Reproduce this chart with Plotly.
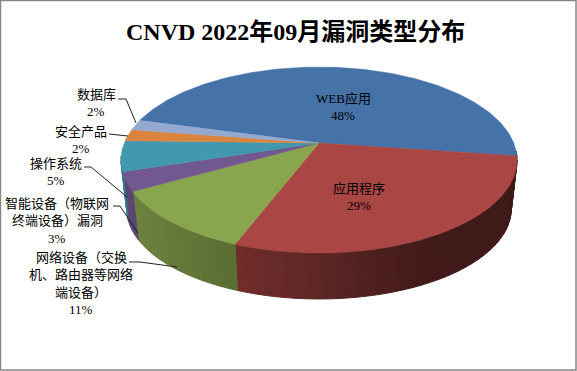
import numpy as np
import plotly.graph_objects as go

categories = ["WEB应用", "应用程序", "网络设备（交换机、路由器等网络终端设备）",
              "智能设备（物联网终端设备）漏洞", "操作系统", "安全产品", "数据库"]
values = [48.0, 28.6, 11.0, 3.3, 5.3, 2.0, 1.8]
top_colors = ["#4572A7", "#AA4643", "#89A54E", "#71588F", "#4198AF", "#DB843D", "#93A9CF"]
start_angle = -74.8

# label text split in lines, with placement
label_lines = [
    ["WEB应用"], ["应用程序"], ["网络设备（交换", "机、路由器等网络", "端设备）"],
    ["智能设备（物联网", "终端设备）漏洞"], ["操作系统"], ["安全产品"], ["数据库"],
]
label_pos = [(343, 98), (359, 188), (81, 257), (57, 203), (56, 163), (81, 131), (96, 94)]
leaders = [
    None, None,
    [(129, 262), (140, 262), (177, 267)],
    [(113, 206), (120, 206), (138, 233)],
    [(84, 167), (91, 167), (127, 197)],
    [(109, 134), (128, 136)],
    [(118, 99), (126, 99), (136, 123)],
]

CX, CY, A, B, P = 319, 143, 194.7, 89.9, 0.183
A2, B2, DY = 189, 87, 49.5


def project(theta_deg, a, b, dy):
    t = np.radians(theta_deg)
    u, v = np.sin(t), np.cos(t)
    w = 1 + P * v
    return CX + a * u / w, CY + dy - b * v / w


def shade(hex_color, f):
    r, g, b = int(hex_color[1:3], 16), int(hex_color[3:5], 16), int(hex_color[5:7], 16)
    return f"rgb({int(r * f)},{int(g * f)},{int(b * f)})"


fig = go.Figure()
total = sum(values)
edges = start_angle + np.concatenate([[0], np.cumsum(values)]) / total * 360.0

# side wall
for i, c in enumerate(top_colors):
    lo, hi = edges[i], edges[i + 1]
    segs = []
    for off in (0, 360):
        l, h = max(lo + off, 95), min(hi + off, 262)
        if h > l:
            segs.append((l, h))
    for l, h in segs:
        n = max(2, int((h - l) / 2.5))
        th = np.linspace(l, h, n + 1)
        for j in range(n):
            tt = np.linspace(th[j], th[j + 1], 3)
            xt, yt = project(tt, A, B, 0)
            xb, yb = project(tt[::-1], A2, B2, DY)
            xm = xt.mean()
            f = float(np.interp(xm, [125, 236, 330, 420, 517], [0.8, 0.66, 0.53, 0.39, 0.37]))
            col = shade(c, f)
            fig.add_trace(go.Scatter(x=np.r_[xt, xb, xt[0]], y=np.r_[yt, yb, yt[0]], mode="lines", fill="toself",
                                     fillcolor=col, line=dict(width=1, color=col), hoverinfo="skip",
                                     showlegend=False))

# top face
for i, c in enumerate(top_colors):
    tt = np.linspace(edges[i], edges[i + 1], max(3, int(values[i] * 3.6)))
    x, y = project(tt, A, B, 0)
    fig.add_trace(go.Scatter(x=np.r_[CX, x, CX], y=np.r_[CY, y, CY], mode="lines", fill="toself",
                             fillcolor=c, line=dict(width=0.5, color=c), name=categories[i],
                             showlegend=False))

# leader lines
for seg in leaders:
    if seg:
        fig.add_trace(go.Scatter(x=[p[0] for p in seg], y=[p[1] for p in seg], mode="lines",
                                 line=dict(color="#222222", width=1), hoverinfo="skip", showlegend=False))

FONT = "Liberation Serif, Noto Sans CJK SC"
ann = []
for lines, (lx, ly), v in zip(label_lines, label_pos, values):
    for k, t in enumerate(lines + [f"{round(v / total * 100)}%"]):
        ann.append(dict(x=lx, y=ly + k * 17.5, text=t, showarrow=False, xref="x", yref="y",
                        font=dict(family=FONT, size=13, color="#000000")))
ann.append(dict(x=295, y=32, text="<b>CNVD 2022年09月漏洞类型分布</b>", showarrow=False, xref="x", yref="y",
                font=dict(family=FONT, size=24, color="#000000")))

fig.update_layout(
    width=577, height=371, margin=dict(l=0, r=0, t=0, b=0),
    paper_bgcolor="white", plot_bgcolor="white", showlegend=False, annotations=ann,
    xaxis=dict(range=[0, 577], visible=False, fixedrange=True),
    yaxis=dict(range=[371, 0], visible=False, fixedrange=True),
    shapes=[dict(type="rect", x0=0.5, y0=0.5, x1=576, y1=370, line=dict(color="#868686", width=1.5))],
)
fig.write_html("out.html", config=dict(displayModeBar=False),
               post_script="document.body.style.margin='0';document.body.style.overflow='hidden';")
